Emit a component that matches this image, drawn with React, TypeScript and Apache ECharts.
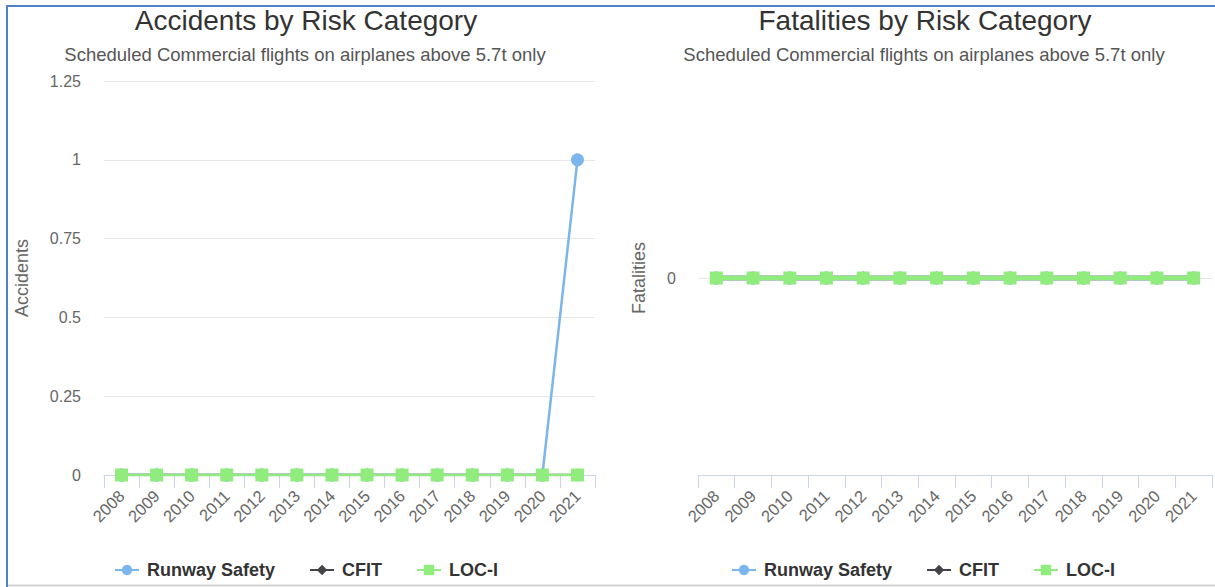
import React, { useEffect, useRef } from "react";
import * as echarts from "echarts";

const years = ["2008","2009","2010","2011","2012","2013","2014","2015","2016","2017","2018","2019","2020","2021"];
const accRunway = [0,0,0,0,0,0,0,0,0,0,0,0,0,1];
const accCFIT = [0,0,0,0,0,0,0,0,0,0,0,0,0,0];
const accLOCI = [0,0,0,0,0,0,0,0,0,0,0,0,0,0];
const fatRunway = [0,0,0,0,0,0,0,0,0,0,0,0,0,0];
const fatCFIT = [0,0,0,0,0,0,0,0,0,0,0,0,0,0];
const fatLOCI = [0,0,0,0,0,0,0,0,0,0,0,0,0,0];
const seriesNames = ["Runway Safety", "CFIT", "LOC-I"];
const colors = ["#7cb5ec", "#434348", "#90ed7d"];
const symbols = ["circle", "diamond", "rect"];

const FONT = "'Liberation Sans', Arial, sans-serif";

export default function App() {
  const ref = useRef<HTMLDivElement>(null);
  useEffect(() => {
    if (!ref.current) return;
    const chart = echarts.init(ref.current, null, { renderer: "svg" });
    const mkSeries = (data: number[][], gi: number, width: number) =>
      data.map((d, i) => ({
        name: seriesNames[i],
        type: "line",
        xAxisIndex: gi,
        yAxisIndex: gi,
        data: d,
        color: colors[i],
        symbol: symbols[i],
        symbolSize: 13,
        showSymbol: true,
        lineStyle: { width, color: colors[i] },
        itemStyle: { color: colors[i] },
        z: 2 + i,
      }));
    const xAxisBase = (gi: number) => ({
      type: "category",
      gridIndex: gi,
      data: years,
      boundaryGap: true,
      axisLine: { show: true, onZero: false, lineStyle: { color: "#ccd6eb", width: 1 } },
      axisTick: { show: true, length: 13, lineStyle: { color: "#ccd6eb" } },
      axisLabel: { interval: 0, rotate: 45, color: "#666", fontSize: 16.5, fontFamily: FONT, margin: 18 },
      splitLine: { show: false },
    });
    const legendBase = (left: number) => ({
      left,
      top: 556,
      itemWidth: 24,
      itemHeight: 13,
      itemGap: 34,
      data: seriesNames,
      textStyle: { fontSize: 18, fontWeight: "bold", color: "#333", fontFamily: FONT, padding: [0, 0, 0, 3] },
    });
    chart.setOption({
      animation: false,
      textStyle: { fontFamily: FONT },
      title: [
        { text: "Accidents by Risk Category", left: 301, top: 1, textAlign: "center", textStyle: { fontSize: 28, fontWeight: "normal", color: "#333", fontFamily: FONT } },
        { text: "Scheduled Commercial flights on airplanes above 5.7t only", left: 300, top: 40, textAlign: "center", textStyle: { fontSize: 18.5, fontWeight: "normal", color: "#555", fontFamily: FONT } },
        { text: "Fatalities by Risk Category", left: 920, top: 1, textAlign: "center", textStyle: { fontSize: 28, fontWeight: "normal", color: "#333", fontFamily: FONT } },
        { text: "Scheduled Commercial flights on airplanes above 5.7t only", left: 919, top: 40, textAlign: "center", textStyle: { fontSize: 18.5, fontWeight: "normal", color: "#555", fontFamily: FONT } },
      ],
      legend: [legendBase(109), legendBase(726)],
      grid: [
        { left: 104, right: 620, top: 81, bottom: 112, containLabel: false },
        { left: 698, right: 3, top: 81, bottom: 112, containLabel: false },
      ],
      xAxis: [xAxisBase(0), xAxisBase(1)],
      yAxis: [
        {
          type: "value",
          gridIndex: 0,
          min: 0,
          max: 1.25,
          interval: 0.25,
          name: "Accidents",
          nameLocation: "middle",
          nameRotate: 90,
          nameGap: 73,
          nameTextStyle: { color: "#666", fontSize: 18, fontFamily: FONT },
          axisLine: { show: false },
          axisTick: { show: false },
          axisLabel: { color: "#666", fontSize: 16, fontFamily: FONT, margin: 23 },
          splitLine: { show: true, lineStyle: { color: "#e6e6e6", width: 1 } },
        },
        {
          type: "value",
          gridIndex: 1,
          min: -1,
          max: 1,
          interval: 1,
          name: "Fatalities",
          nameLocation: "middle",
          nameRotate: 90,
          nameGap: 50,
          nameTextStyle: { color: "#666", fontSize: 18, fontFamily: FONT },
          axisLine: { show: false },
          axisTick: { show: false },
          axisLabel: { color: "#666", fontSize: 16, fontFamily: FONT, margin: 22, formatter: (v: number) => (v === 0 ? "0" : "") },
          splitLine: { show: true, showMinLine: false, showMaxLine: false, lineStyle: { color: "#e6e6e6", width: 1 } },
        },
      ],
      series: [
        ...mkSeries([accRunway, accCFIT, accLOCI], 0, 2.5),
        ...mkSeries([fatRunway, fatCFIT, fatLOCI], 1, 4.5),
      ],
      graphic: [
        { type: "line", shape: { x1: 7, y1: 6, x2: 7, y2: 587 }, style: { stroke: "#4f81c7", lineWidth: 2 }, silent: true },
        { type: "line", shape: { x1: 6, y1: 6, x2: 1215, y2: 6 }, style: { stroke: "#4f81c7", lineWidth: 2 }, silent: true },
        { type: "line", shape: { x1: 8, y1: 585.5, x2: 1215, y2: 585.5 }, style: { stroke: "#d4d4d4", lineWidth: 2 }, silent: true },
      ],
    });
    return () => chart.dispose();
  }, []);
  return <div ref={ref} style={{ position: "fixed", left: 0, top: 0, width: 1215, height: 587, background: "#fff" }} />;
}
